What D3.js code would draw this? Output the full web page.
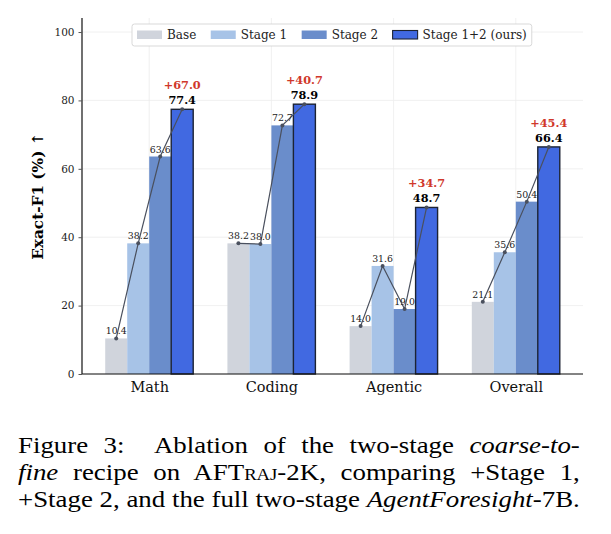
<!DOCTYPE html>
<html>
<head>
<meta charset="utf-8">
<script src="https://cdn.jsdelivr.net/npm/d3@7"></script>
<style>
  body { margin: 0; background: #fff; }
  #caption { position: absolute; left: 18px; top: 432px; width: 481px;
    transform: scaleX(1.168); transform-origin: 0 0;
    font-family: "Liberation Serif", serif; font-size: 23px; line-height: 27px; color: #000; }
  #caption div { text-align: justify; text-align-last: justify; white-space: nowrap; }
  .sc { font-variant: small-caps; }
</style>
</head>
<body>
<div id="chart"></div>
<div id="caption">
  <div>Figure 3:&nbsp; Ablation of the two-stage <i>coarse-to-</i></div>
  <div><i>fine</i> recipe on AFT<span class="sc">raj</span>-2K, comparing +Stage 1,</div>
  <div>+Stage 2, and the full two-stage <i>AgentForesight</i>-7B.</div>
</div>
<script>
// data
var categories = ["Math", "Coding", "Agentic", "Overall"];
var seriesNames = ["Base", "Stage 1", "Stage 2", "Stage 1+2 (ours)"];
var base   = [10.4, 38.2, 14.0, 21.1];
var stage1 = [38.2, 38.0, 31.6, 35.6];
var stage2 = [63.6, 72.7, 19.0, 50.4];
var ours   = [77.4, 78.9, 48.7, 66.4];
var gains  = ["+67.0", "+40.7", "+34.7", "+45.4"];
var yTicks = [0, 20, 40, 60, 80, 100];

var colors = ["#d0d4dc", "#a7c3e7", "#6a8dcb", "#4169e1"];
var allSeries = [base, stage1, stage2, ours];
var serif = "'DejaVu Serif', serif";

var svgWidth = 611, svgHeight = 410;
var margin = { top: 18, right: 28, bottom: 36, left: 82 };
var width = svgWidth - margin.left - margin.right;
var height = 374 - margin.top;

var svg = d3.select("#chart").append("svg")
    .attr("width", svgWidth)
    .attr("height", svgHeight)
    .style("font-family", serif);

var g = svg.append("g").attr("transform", `translate(${margin.left}, ${margin.top})`);

// x in category units like matplotlib
var x = d3.scaleLinear().domain([-0.55, 3.55]).range([0, width]);
var y = d3.scaleLinear().domain([0, 104.1]).range([height, 0]);
var barW = 0.18;

// grid
g.append("g").selectAll("line").data(yTicks).enter().append("line")
    .attr("x1", 0).attr("x2", width)
    .attr("y1", d => y(d)).attr("y2", d => y(d))
    .attr("stroke", "#ececec").attr("stroke-width", 0.8);
g.append("g").selectAll("line").data(categories).enter().append("line")
    .attr("x1", (d, i) => x(i)).attr("x2", (d, i) => x(i))
    .attr("y1", 0).attr("y2", height)
    .attr("stroke", "#ececec").attr("stroke-width", 0.8);

// bars
allSeries.forEach(function(vals, s) {
    var off = (s - 1.5) * barW;
    g.append("g").selectAll("rect").data(vals).enter().append("rect")
        .attr("x", (d, i) => x(i + off - barW / 2))
        .attr("width", x(barW) - x(0))
        .attr("y", d => y(d))
        .attr("height", d => height - y(d))
        .attr("fill", colors[s])
        .attr("stroke", s === 3 ? "#1c2333" : "none")
        .attr("stroke-width", 1.4);
});

// connecting line per category
var line = d3.line().x(d => x(d[0])).y(d => y(d[1]));
categories.forEach(function(c, i) {
    var pts = allSeries.map((vals, s) => [i + (s - 1.5) * barW, vals[i]]);
    g.append("path").datum(pts)
        .attr("d", line)
        .attr("fill", "none")
        .attr("stroke", "#4a505e")
        .attr("stroke-width", 1.2);
    g.append("g").selectAll("circle").data(pts).enter().append("circle")
        .attr("cx", d => x(d[0])).attr("cy", d => y(d[1]))
        .attr("r", 2).attr("fill", "#4a505e");
    // small value labels
    pts.slice(0, 3).forEach(function(p) {
        g.append("text")
            .attr("x", x(p[0])).attr("y", y(p[1]) - 4)
            .attr("text-anchor", "middle")
            .attr("font-size", "9.4px")
            .attr("fill", "#222")
            .text(p[1].toFixed(1));
    });
    g.append("text")
        .attr("x", x(pts[3][0])).attr("y", y(pts[3][1]) - 5)
        .attr("text-anchor", "middle")
        .attr("font-size", "11.3px")
        .attr("font-weight", "bold")
        .text(pts[3][1].toFixed(1));
    g.append("text")
        .attr("x", x(pts[3][0])).attr("y", y(pts[3][1]) - 20)
        .attr("text-anchor", "middle")
        .attr("font-size", "11.3px")
        .attr("font-weight", "bold")
        .attr("fill", "#d0382b")
        .text(gains[i]);
});

// axes
var yAxis = g.append("g")
    .call(d3.axisLeft(y).tickValues(yTicks).tickSize(3.5).tickPadding(4));
yAxis.selectAll("text").attr("font-size", "10.5px").attr("fill", "#222").style("font-family", serif);
yAxis.selectAll(".tick line").attr("stroke", "#555");
yAxis.select(".domain").attr("d", `M0,0V${height}`).attr("stroke", "#111").attr("stroke-width", 1.2);

var xAxis = g.append("g")
    .attr("transform", `translate(0, ${height})`)
    .call(d3.axisBottom(x).tickValues([0, 1, 2, 3]).tickFormat(i => categories[i]).tickSize(0).tickPadding(8));
xAxis.selectAll("text").attr("font-size", "14.5px").attr("fill", "#111").style("font-family", serif);
xAxis.select(".domain").attr("d", `M0,0H${width}`).attr("stroke", "#111").attr("stroke-width", 1.2);

// y label
svg.append("text")
    .attr("transform", `translate(43, ${margin.top + y(52)}) rotate(-90)`)
    .attr("text-anchor", "middle")
    .attr("font-size", "15.3px")
    .attr("font-weight", "bold")
    .text("Exact-F1 (%) \u2191");

// legend
var leg = svg.append("g");
var legBox = leg.append("rect")
    .attr("y", 24).attr("height", 22).attr("rx", 2.5)
    .attr("fill", "#fff").attr("stroke", "#cfcfcf").attr("stroke-width", 0.8);
var lx = 137;
seriesNames.forEach(function(name, s) {
    leg.append("rect")
        .attr("x", lx).attr("y", 30.5).attr("width", 25).attr("height", 8.5)
        .attr("fill", colors[s])
        .attr("stroke", s === 3 ? "#1c2333" : "none").attr("stroke-width", 1.1);
    var t = leg.append("text")
        .attr("x", lx + 30).attr("y", 39.3)
        .attr("font-size", "12px").attr("fill", "#222")
        .text(name);
    lx += 30 + t.node().getComputedTextLength() + 14.5;
});
legBox.attr("x", 132).attr("width", lx - 14.5 + 5 - 132);
</script>
</body>
</html>
